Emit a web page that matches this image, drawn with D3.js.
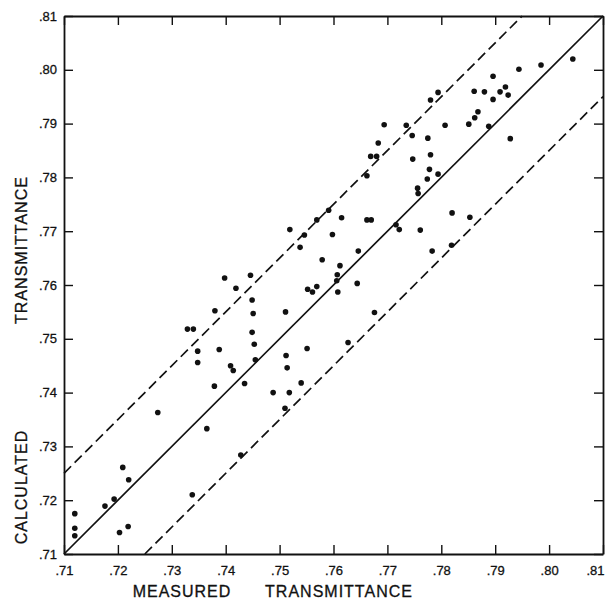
<!DOCTYPE html>
<html>
<head>
<meta charset="utf-8">
<script src="https://cdn.jsdelivr.net/npm/d3@7"></script>
<style>
  html, body { margin: 0; padding: 0; background: #fff; }
  svg text { font-family: "Liberation Sans", Arial, sans-serif; fill: #111; }
</style>
</head>
<body>
<div id="chart"></div>
<script>
// measured vs calculated transmittance
const measured = [
  .7120, .7120, .7120, .7176, .7193, .7209, .7220, .7203, .7219, .7274,
  .7338, .7365, .7329, .7340, .7348, .7348, .7380, .7398, .7419, .7446,
  .7449, .7451, .7449, .7453, .7455, .7388, .7409, .7414, .7379, .7435,
  .7428,
  .7757, .7591, .7569, .7615, .7519, .7546, .7598, .7662, .7670, .7716,
  .7722, .7761, .7538, .7646, .7579, .7612, .7607, .7606, .7552, .7561,
  .7569, .7608, .7644, .7511, .7676, .7551, .7627, .7512, .7514, .7540,
  .7488, .7518, .7510,
  .8044, .7985, .7944, .7896, .7794, .7780, .7861, .7880, .7909, .7919,
  .7924, .7896, .7868, .7862, .7851, .7807, .7735, .7888, .7746, .7775,
  .7928, .7747, .7780, .7778, .7774, .7794, .7756, .7820, .7853, .7783,
  .7819,
  .7694, .7683, .7669, .7680, .7662
];
const calculated = [
  .7175, .7148, .7134, .7189, .7202, .7261, .7238, .7140, .7151, .7363,
  .7210, .7333, .7518, .7518, .7477, .7456, .7552, .7613, .7594, .7618,
  .7572, .7547, .7512, .7490, .7461, .7480, .7450, .7441, .7412, .7417,
  .7284,
  .7770, .7739, .7721, .7725, .7703, .7693, .7694, .7721, .7721, .7712,
  .7703, .7702, .7670, .7663, .7647, .7636, .7619, .7608, .7592, .7587,
  .7597, .7587, .7603, .7550, .7549, .7482, .7493, .7469, .7446, .7418,
  .7400, .7400, .7371,
  .8020, .8009, .8001, .7988, .7958, .7944, .7960, .7959, .7959, .7968,
  .7953, .7945, .7922, .7911, .7899, .7897, .7897, .7895, .7878, .7873,
  .7872, .7834, .7842, .7815, .7797, .7806, .7780, .7734, .7726, .7663,
  .7674,
  .7898, .7864, .7839, .7839, .7803
];
const tickValues = [.71, .72, .73, .74, .75, .76, .77, .78, .79, .80, .81];
// y = x line and the +/- band around it
const lineOffsets = [0, .015, -.015];
const lineDashes = [null, '10,5', '10,5'];
const domain = [.71, .81];

const W = 606, H = 603;
const M = { TOP: 16, BOTTOM: 49, LEFT: 64, RIGHT: 3 };

const svg = d3.select('#chart')
  .append('svg')
    .attr('width', W)
    .attr('height', H);

const x = d3.scaleLinear().domain(domain).range([M.LEFT, W - M.RIGHT]);
const y = d3.scaleLinear().domain(domain).range([H - M.BOTTOM, M.TOP]);
const fmt = v => d3.format('.2f')(v).replace(/^0/, '');

const TICK = 9;

// axes, ticks pointing into the box
const xAxis = svg.append('g')
  .attr('transform', `translate(0, ${y(domain[0])})`)
  .call(d3.axisBottom(x).tickValues(tickValues).tickFormat(fmt).tickSizeInner(-TICK).tickSizeOuter(0).tickPadding(12));
svg.append('g')
  .attr('transform', `translate(0, ${y(domain[1])})`)
  .call(d3.axisTop(x).tickValues(tickValues).tickFormat('').tickSizeInner(-TICK).tickSizeOuter(0));
svg.append('g')
  .attr('transform', `translate(${x(domain[0])}, 0)`)
  .call(d3.axisLeft(y).tickValues(tickValues).tickFormat(fmt).tickSizeInner(-TICK).tickSizeOuter(0).tickPadding(7));
svg.append('g')
  .attr('transform', `translate(${x(domain[1])}, 0)`)
  .call(d3.axisRight(y).tickValues(tickValues).tickFormat('').tickSizeInner(-TICK).tickSizeOuter(0));

svg.selectAll('.domain').attr('stroke', '#111').attr('stroke-width', 1.8);
svg.selectAll('.tick line').attr('stroke', '#111').attr('stroke-width', 1.4);
svg.selectAll('.tick text')
  .attr('fill', '#111')
  .attr('stroke', '#111')
  .attr('stroke-width', 0.3)
  .style('font-size', '13px')
  .style('font-family', '"Liberation Sans", Arial, sans-serif');

// last bottom label sits at the page edge, pull it in
xAxis.selectAll('.tick text')
  .filter(d => d === domain[1])
  .attr('text-anchor', 'end')
  .attr('dx', 1);

// reference lines
lineOffsets.forEach((off, i) => {
  const x0 = Math.max(domain[0], domain[0] - off);
  const x1 = Math.min(domain[1], domain[1] - off);
  svg.append('line')
    .attr('x1', x(x0))
    .attr('y1', y(x0 + off))
    .attr('x2', x(x1))
    .attr('y2', y(x1 + off))
    .attr('stroke', '#111')
    .attr('stroke-width', 1.7)
    .attr('stroke-dasharray', lineDashes[i]);
});

// points
svg.append('g')
  .selectAll('circle')
  .data(measured.map((m, i) => [m, calculated[i]]))
  .join('circle')
    .attr('cx', d => x(d[0]))
    .attr('cy', d => y(d[1]))
    .attr('r', 2.8)
    .attr('fill', '#111');

// axis titles
const title = (tx, ty, rot, label) => svg.append('text')
  .attr('transform', `translate(${tx}, ${ty}) rotate(${rot})`)
  .attr('text-anchor', 'middle')
  .attr('stroke', '#111')
  .attr('stroke-width', 0.3)
  .style('font-size', '16px')
  .style('letter-spacing', '1px')
  .text(label);

title(182, 597, 0, 'MEASURED');
title(339, 597, 0, 'TRANSMITTANCE');
title(27, 487, -90, 'CALCULATED');
title(27, 250, -90, 'TRANSMITTANCE');
</script>
</body>
</html>
